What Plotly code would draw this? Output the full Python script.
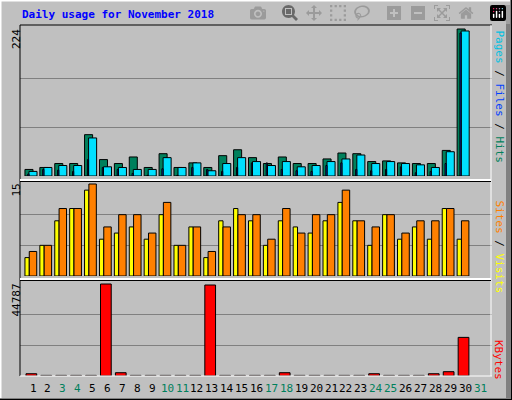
import plotly.graph_objects as go

days = list(range(1, 31))
hits = [10,13,19,19,63,25,19,29,13,34,13,20,13,31,40,28,19,29,19,19,26,35,34,22,23,20,19,19,39,224]
files = [7,13,16,16,58,14,13,10,10,28,13,20,8,19,28,22,16,22,14,16,22,26,32,19,22,19,17,13,37,221]
pages = [3,10,9,7,25,13,10,4,1,11,1,13,10,7,13,20,20,10,8,7,16,20,10,8,10,14,5,7,19,218]
sites = [3,5,9,11,14,6,7,8,6,10,5,8,3,9,11,9,5,9,8,7,9,12,9,5,10,6,8,6,11,6]
visits = [4,5,11,11,15,8,10,10,7,12,5,8,4,8,10,10,6,11,7,10,10,14,9,8,10,7,9,9,11,9]
kbytes = [1100,300,300,300,300,44787,1600,300,300,300,300,300,44300,300,300,300,300,1600,300,300,300,300,300,1100,300,300,300,1100,2100,18800]
tick_days = list(range(1, 32))
weekend = [3,4,10,11,17,18,24,25,31]

W, H = 512, 400
def py(p): return 1 - p / H
def px(p): return p / W

fig = go.Figure()
line = dict(color="black", width=1)
def bar(y, color, off, wid, ax):
    fig.add_trace(go.Bar(x=days, y=y, marker=dict(color=color, line=line),
                         offset=off, width=wid, xaxis="x" + ax, yaxis="y" + ax,
                         hoverinfo="skip", showlegend=False))
bar(hits, "#00805C", -0.54, 0.54, "")
bar(files, "#00E0FF", -0.27, 0.54, "")
bar(pages, "#0040FF", -0.35, 0.08, "")
bar(sites, "#FFFF00", -0.54, 0.29, "2")
bar(visits, "#FF8000", -0.25, 0.5, "2")
bar(kbytes, "#FF0000", -0.47, 0.72, "3")

xr = [0.128, 31.8]
xd = [px(20), px(492)]
xa = dict(range=xr, domain=xd, showgrid=False, showticklabels=False, zeroline=False, fixedrange=True)
def ya(base, toppx, labpx, top, anchor):
    rng = top * (base - toppx) / (base - labpx)
    return dict(domain=[py(base), py(toppx)], range=[0, rng], tickvals=[top / 3, 2 * top / 3],
                showticklabels=False, gridcolor="#808080", gridwidth=1, zeroline=False, anchor=anchor)
fig.update_layout(
    width=W, height=H, margin=dict(l=0, r=0, t=0, b=0),
    paper_bgcolor="#C0C0C0", plot_bgcolor="#C0C0C0", barmode="overlay",
    xaxis=dict(xa, anchor="y"), xaxis2=dict(xa, anchor="y2"), xaxis3=dict(xa, anchor="y3"),
    yaxis=ya(176, 26, 29, 224, "x"),
    yaxis2=ya(276, 181, 184, 15, "x2"),
    yaxis3=ya(376, 281, 284, 44787, "x3"),
)

shapes = []
def ln(x0, y0, x1, y1, c, w=1):
    shapes.append(dict(type="line", xref="paper", yref="paper", x0=px(x0), y0=py(y0), x1=px(x1), y1=py(y1),
                       line=dict(color=c, width=w)))
ln(0, 0.5, 512, 0.5, "white", 2); ln(0.5, 0, 0.5, 400, "white", 2)
ln(0, 399, 512, 399, "#808080", 2); ln(511, 0, 511, 400, "#808080", 2)
ln(0, 399.5, 512, 399.5, "black", 1); ln(511.5, 0, 511.5, 400, "black", 1)
ln(508, 5, 508, 398, "#808080", 4)
ln(20, 25, 492, 25, "black", 1); ln(20, 25, 20, 376, "black", 1)
ln(491, 25, 491, 376, "white", 1); ln(20, 376, 492, 376, "white", 1)
ln(20, 180, 491, 180, "white", 2); ln(20, 279, 491, 279, "white", 2)
ln(20, 181.5, 491, 181.5, "black", 1); ln(20, 280.5, 491, 280.5, "black", 1)
fig.update_layout(shapes=shapes)

mono = "DejaVu Sans Mono"
ann = []
ann.append(dict(text="<b>Daily usage for November 2018</b>", x=px(20), y=py(15), xanchor="left", yanchor="middle",
                font=dict(family=mono, size=11, color="#0000FF")))
for lbl, yy in [("224", 27), ("15", 182), ("44787", 282)]:
    ann.append(dict(text=lbl, x=px(16), y=py(yy), xanchor="center", yanchor="top", textangle=-90,
                    font=dict(family=mono, size=11, color="black")))
ann.append(dict(text='<span style="color:#00C0E0">Pages</span> / <span style="color:#0040FF">Files</span> / <span style="color:#00805C">Hits</span>',
                x=px(499), y=py(28), xanchor="center", yanchor="top", textangle=90, font=dict(family=mono, size=11, color="black")))
ann.append(dict(text='<span style="color:#FF8000">Sites</span> / <span style="color:#FFFF00">Visits</span>',
                x=px(499), y=py(198), xanchor="center", yanchor="top", textangle=90, font=dict(family=mono, size=11, color="black")))
ann.append(dict(text='<span style="color:#FF0000">KBytes</span>',
                x=px(499), y=py(338), xanchor="center", yanchor="top", textangle=90, font=dict(family=mono, size=11, color="black")))
for d in tick_days:
    ann.append(dict(text=str(d), x=d, xref="x3", y=py(388), yref="paper", xanchor="center", yanchor="middle",
                    font=dict(family=mono, size=11, color="#00805C" if d in weekend else "black")))
for a in ann:
    a.setdefault("xref", "paper"); a.setdefault("yref", "paper"); a["showarrow"] = False
fig.update_layout(annotations=ann)
fig.write_html("out.html", post_script="document.body.style.margin='0';document.body.style.overflow='hidden';")
